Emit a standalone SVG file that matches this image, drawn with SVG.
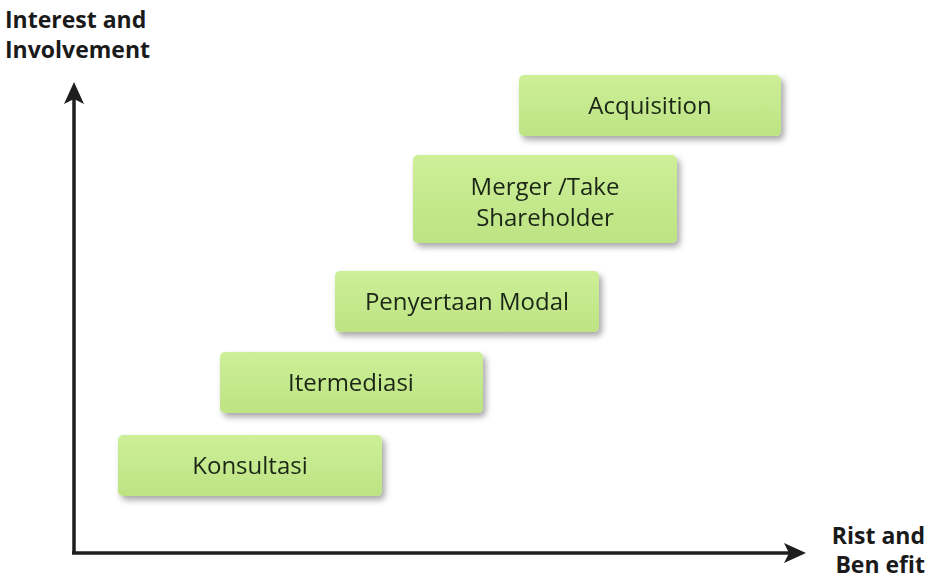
<svg xmlns="http://www.w3.org/2000/svg" width="930" height="582" viewBox="0 0 930 582">
<style>
.box{fill:url(#g);}
.lbl{font-family:"Open Sans","Noto Sans",sans-serif;font-size:24px;fill:#1b2616;text-anchor:middle;}
.ax{font-family:"Open Sans","Liberation Sans",sans-serif;font-size:23px;font-weight:bold;fill:#1a1a1a;}
.axis{stroke:#1e1e1e;stroke-width:3.5;fill:none;}
</style>
<defs>
<linearGradient id="g" x1="0" y1="0" x2="0" y2="1">
<stop offset="0" stop-color="#cdef98"/>
<stop offset="1" stop-color="#bde383"/>
</linearGradient>
<filter id="sh" x="-10%" y="-20%" width="125%" height="150%">
<feGaussianBlur in="SourceAlpha" stdDeviation="3"/>
<feOffset dx="3" dy="4"/>
<feComponentTransfer><feFuncA type="linear" slope="0.35"/></feComponentTransfer>
<feMerge><feMergeNode/><feMergeNode in="SourceGraphic"/></feMerge>
</filter>
</defs>
<rect width="930" height="582" fill="#ffffff"/>
<g id="connectors">
<path class="axis" d="M74,553 L74,92"/>
<path d="M74,82 L64,104 L74,99 L84,104 Z" fill="#1e1e1e"/>
<path class="axis" d="M72,553 L795,553"/>
<path d="M806,553 L784,543 L789,553 L784,563 Z" fill="#1e1e1e"/>
</g>
<g id="y-label">
<text class="ax" x="5" y="28">Interest and</text>
<text class="ax" x="5" y="58">Involvement</text>
</g>
<g id="x-label">
<text class="ax" x="925" y="544" text-anchor="end">Rist and</text>
<text class="ax" x="925" y="573" text-anchor="end">Ben efit</text>
</g>
<g id="konsultasi" filter="url(#sh)">
<rect class="box" x="118" y="435" width="264" height="61" rx="5"/>
<text class="lbl" x="250" y="474">Konsultasi</text>
</g>
<g id="itermediasi" filter="url(#sh)">
<rect class="box" x="220" y="352" width="263" height="61" rx="5"/>
<text class="lbl" x="351" y="391">Itermediasi</text>
</g>
<g id="penyertaan" filter="url(#sh)">
<rect class="box" x="335" y="271" width="264" height="61" rx="5"/>
<text class="lbl" x="467" y="310">Penyertaan Modal</text>
</g>
<g id="merger" filter="url(#sh)">
<rect class="box" x="413" y="155" width="264" height="88" rx="5"/>
<text class="lbl" x="545" y="195">Merger /Take</text>
<text class="lbl" x="545" y="226">Shareholder</text>
</g>
<g id="acquisition" filter="url(#sh)">
<rect class="box" x="519" y="75" width="262" height="61" rx="5"/>
<text class="lbl" x="650" y="114">Acquisition</text>
</g>
</svg>
